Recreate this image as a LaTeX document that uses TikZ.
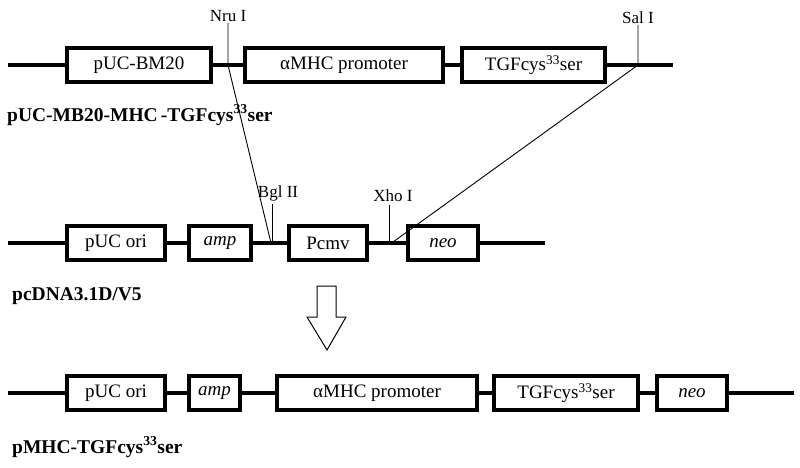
\documentclass[tikz,border=0pt]{standalone}
\usepackage{fontspec}
\setmainfont{Liberation Serif}
\begin{document}
\begin{tikzpicture}[x=1pt,y=-1pt,
  gene/.style={draw,line width=3.2pt,minimum height=34pt,inner sep=0pt,font=\fontsize{19}{21}\selectfont},
  backbone/.style={line width=3.4pt},
  site/.style={font=\fontsize{17}{19}\selectfont,inner sep=1pt},
  cut/.style={line width=0.9pt},
  title/.style={font=\fontsize{19.5}{21}\selectfont\bfseries,anchor=west,inner sep=0pt}]
\useasboundingbox (0,0) rectangle (800,468);
\newcommand{\tgf}{TGFcys\textsuperscript{33}ser}
% ---------- row 1
\coordinate (L1) at (8,65);
\coordinate (R1) at (673,65);
\node[gene,minimum width=144pt] (bm) at (139,65) {pUC-BM20};
\node[gene,minimum width=198pt] (mhc1) at (344,65) {αMHC promoter};
\node[gene,minimum width=143pt] (tgf1) at (533.5,65) {\tgf};
\draw[backbone] (L1) -- (bm.west);
\draw[backbone] (bm.east) -- (mhc1.west);
\draw[backbone] (mhc1.east) -- (tgf1.west);
\draw[backbone] (tgf1.east) -- (R1);
\node[title] (t1) at (7,115) {pUC-MB20-MHC\,-\tgf};
% ---------- row 2
\coordinate (L2) at (8,243);
\coordinate (R2) at (545,243);
\node[gene,minimum width=98pt] (ori2) at (116,243) {pUC ori};
\node[gene,minimum width=62pt] (amp2) at (220,243) {\itshape amp};
\node[gene,minimum width=78pt] (cmv) at (328,243) {Pcmv};
\node[gene,minimum width=70pt] (neo2) at (443,243) {\itshape neo};
\draw[backbone] (L2) -- (ori2.west);
\draw[backbone] (ori2.east) -- (amp2.west);
\draw[backbone] (amp2.east) -- (cmv.west);
\draw[backbone] (cmv.east) -- (neo2.west);
\draw[backbone] (neo2.east) -- (R2);
\node[title] (t2) at (12,296) {pcDNA3.1D/V5};
% ---------- restriction sites
\coordinate (nru) at (228,65);
\coordinate (sal) at (638,65);
\coordinate (bgl) at (271,243);
\coordinate (xho) at (389,243);
\coordinate (xhoend) at (393,242);
\node[site,anchor=south] (nrul) at (228,23) {Nru I};
\node[site,anchor=south] (sall) at (638,25) {Sal I};
\node[site,anchor=south] (bgll) at (278,202) {Bgl II};
\node[site,anchor=south] (xhol) at (393,203) {Xho I};
\draw[cut] (nrul.south) -- (nru) -- (bgl);
\draw[cut] (sall.south) -- (sal) -- (xhoend);
\draw[cut] (272,204) -- (272,243);
\draw[cut] (389,205) -- (xho);
% ---------- arrow
\draw[line width=1pt,fill=white] (317,286) -- (336,286) -- (336,317) -- (346,317) -- (327,350) -- (307,317) -- (317,317) -- cycle;
% ---------- row 3
\coordinate (L3) at (8,393);
\coordinate (R3) at (794,393);
\node[gene,minimum width=98pt] (ori3) at (116,393) {pUC ori};
\node[gene,minimum width=51pt] (amp3) at (214.5,393) {\itshape amp};
\node[gene,minimum width=200pt] (mhc3) at (377,393) {αMHC promoter};
\node[gene,minimum width=144pt] (tgf3) at (566,393) {\tgf};
\node[gene,minimum width=70pt] (neo3) at (692,393) {\itshape neo};
\draw[backbone] (L3) -- (ori3.west);
\draw[backbone] (ori3.east) -- (amp3.west);
\draw[backbone] (amp3.east) -- (mhc3.west);
\draw[backbone] (mhc3.east) -- (tgf3.west);
\draw[backbone] (tgf3.east) -- (neo3.west);
\draw[backbone] (neo3.east) -- (R3);
\node[title] (t3) at (12,447) {pMHC-\tgf};
\end{tikzpicture}
\end{document}
